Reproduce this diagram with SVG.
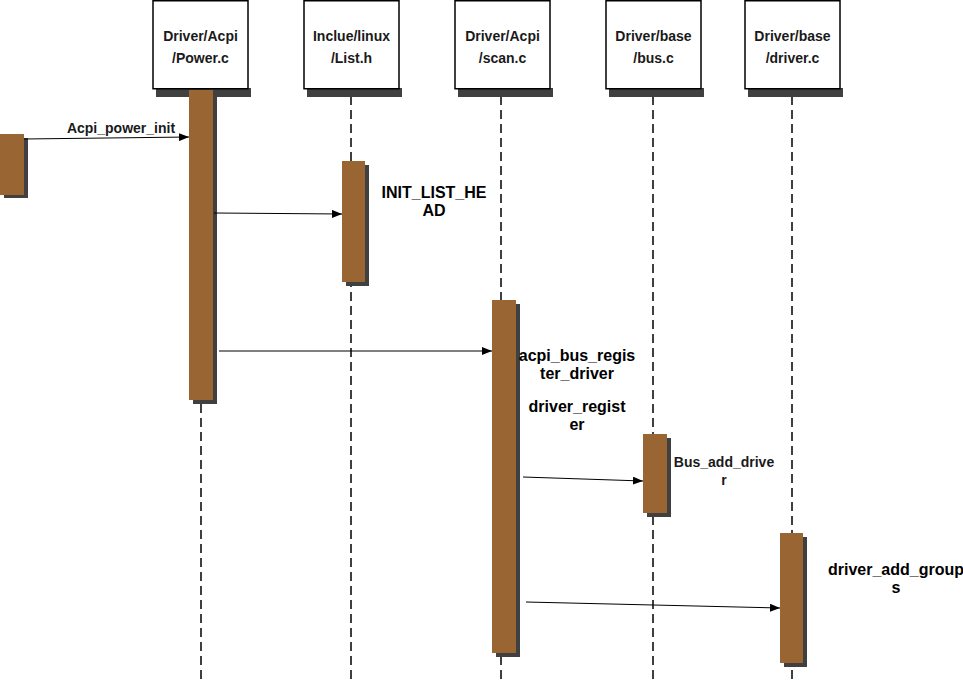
<svg xmlns="http://www.w3.org/2000/svg" width="963" height="680" viewBox="0 0 963 680">
  <style>
    .box { fill: #ffffff; stroke: #000000; stroke-width: 1.5; }
    .boxshadow { fill: #404040; }
    .head { font-family: "Liberation Sans", Arial, sans-serif; font-weight: bold; font-size: 14px; fill: #1a1a1a; text-anchor: middle; }
    .life { stroke: #000000; stroke-width: 1.5; stroke-dasharray: 9 5; fill: none; }
    .act { fill: #996633; }
    .actshadow { fill: #404040; }
    .msg { stroke: #000000; stroke-width: 1; fill: none; marker-end: url(#arrow); }
    .lbl { font-family: "Liberation Sans", Arial, sans-serif; font-weight: bold; font-size: 16px; fill: #000000; text-anchor: middle; }
    .lbl-s { font-family: "Liberation Sans", Arial, sans-serif; font-weight: bold; font-size: 14px; fill: #1a1a1a; text-anchor: middle; }
  </style>
  <defs>
    <marker id="arrow" viewBox="0 0 10 8" refX="10" refY="4" markerWidth="10" markerHeight="8" markerUnits="userSpaceOnUse" orient="auto">
      <path d="M0,0 L10,4 L0,8 Z" fill="#000000"/>
    </marker>
  </defs>

  <rect width="963" height="680" fill="#ffffff"/>

  <!-- lifelines -->
  <g id="lifelines">
    <line class="life" x1="201" y1="96" x2="201" y2="680"/>
    <line class="life" x1="351" y1="96" x2="351" y2="680"/>
    <line class="life" x1="501" y1="96" x2="501" y2="680"/>
    <line class="life" x1="653" y1="96" x2="653" y2="680"/>
    <line class="life" x1="792" y1="96" x2="792" y2="680"/>
  </g>

  <!-- participant boxes -->
  <g id="power-c">
    <rect class="boxshadow" x="156" y="88" width="95" height="9"/>
    <rect class="box" x="153" y="0.75" width="95" height="88"/>
    <text class="head" x="200.5" y="41">Driver/Acpi</text>
    <text class="head" x="200.5" y="63">/Power.c</text>
  </g>
  <g id="list-h">
    <rect class="boxshadow" x="307" y="88" width="95" height="9"/>
    <rect class="box" x="304" y="0.75" width="95" height="88"/>
    <text class="head" x="351.5" y="41">Inclue/linux</text>
    <text class="head" x="351.5" y="63">/List.h</text>
  </g>
  <g id="scan-c">
    <rect class="boxshadow" x="458" y="88" width="95" height="9"/>
    <rect class="box" x="455" y="0.75" width="95" height="88"/>
    <text class="head" x="502.5" y="41">Driver/Acpi</text>
    <text class="head" x="502.5" y="63">/scan.c</text>
  </g>
  <g id="bus-c">
    <rect class="boxshadow" x="609" y="88" width="95" height="9"/>
    <rect class="box" x="606" y="0.75" width="95" height="88"/>
    <text class="head" x="653.5" y="41">Driver/base</text>
    <text class="head" x="653.5" y="63">/bus.c</text>
  </g>
  <g id="driver-c">
    <rect class="boxshadow" x="748" y="88" width="95" height="9"/>
    <rect class="box" x="745" y="0.75" width="95" height="88"/>
    <text class="head" x="792.5" y="41">Driver/base</text>
    <text class="head" x="792.5" y="63">/driver.c</text>
  </g>

  <!-- activation bars -->
  <g id="act-caller">
    <rect class="actshadow" x="4" y="138" width="24" height="60"/>
    <rect class="act" x="0" y="134" width="24" height="61"/>
  </g>
  <g id="act-power">
    <rect class="actshadow" x="193" y="94" width="24" height="310"/>
    <rect class="act" x="189" y="90" width="24" height="310"/>
  </g>
  <g id="act-list">
    <rect class="actshadow" x="346" y="165" width="23" height="121"/>
    <rect class="act" x="342" y="161" width="23" height="121"/>
  </g>
  <g id="act-scan">
    <rect class="actshadow" x="496" y="304" width="24" height="353"/>
    <rect class="act" x="492" y="300" width="24" height="353"/>
  </g>
  <g id="act-bus">
    <rect class="actshadow" x="647" y="438" width="24" height="79"/>
    <rect class="act" x="643" y="434" width="24" height="79"/>
  </g>
  <g id="act-driver">
    <rect class="actshadow" x="784" y="537" width="23" height="130"/>
    <rect class="act" x="780" y="533" width="23" height="130"/>
  </g>

  <!-- messages -->
  <g id="connectors">
    <line class="msg" x1="24" y1="139" x2="189" y2="137"/>
    <line class="msg" x1="214" y1="213" x2="342" y2="214"/>
    <line class="msg" x1="219" y1="351" x2="492" y2="351"/>
    <line class="msg" x1="523" y1="477" x2="643" y2="481"/>
    <line class="msg" x1="526" y1="602" x2="780" y2="608"/>
  </g>

  <!-- message labels -->
  <g id="labels">
    <text class="lbl-s" x="121" y="133">Acpi_power_init</text>
    <text class="lbl" x="434" y="198">INIT_LIST_HE</text>
    <text class="lbl" x="434" y="216">AD</text>
    <text class="lbl" x="577" y="361">acpi_bus_regis</text>
    <text class="lbl" x="577" y="379">ter_driver</text>
    <text class="lbl" x="577" y="412">driver_regist</text>
    <text class="lbl" x="577" y="430">er</text>
    <text class="lbl-s" x="724" y="467">Bus_add_drive</text>
    <text class="lbl-s" x="724" y="485">r</text>
    <text class="lbl" x="896" y="575">driver_add_group</text>
    <text class="lbl" x="896" y="593">s</text>
  </g>
</svg>
